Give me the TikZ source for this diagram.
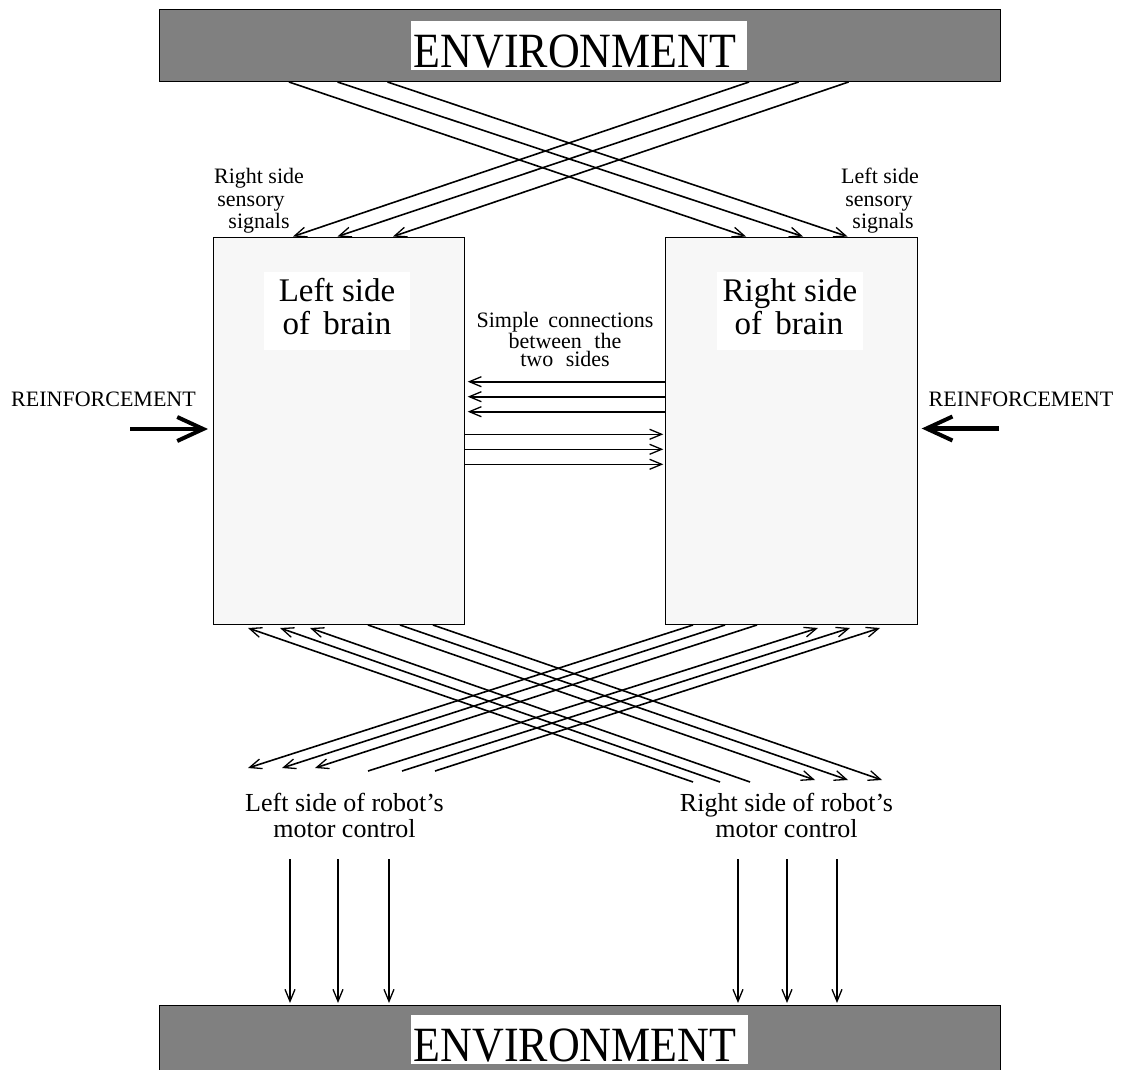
\documentclass[tikz,border=0pt]{standalone}
\usepackage{fontspec}
\setmainfont{Liberation Serif}
\usetikzlibrary{arrows.meta,calc}

\definecolor{envgray}{HTML}{808080}
\definecolor{brainfill}{HTML}{F7F7F7}

\tikzset{
  envbar/.style={draw=black,line width=1pt,fill=envgray,inner sep=0pt,anchor=north west},
  whitebox/.style={fill=white,draw=none,inner sep=0pt,anchor=north west},
  brainbox/.style={draw=black,line width=1pt,fill=brainfill,inner sep=0pt,anchor=north west},
  sig/.style={line width=1.6pt,-{Straight Barb[length=12pt,width=10pt,line width=1.3pt]}},
  reinf/.style={line width=4.5pt,-{Straight Barb[length=26pt,width=24pt,line width=4pt]}},
  lbl/.style={inner sep=0pt,anchor=base},
  small/.style={lbl,font=\fontsize{22}{22}\selectfont},
  motor/.style={lbl,font=\fontsize{26}{26}\selectfont},
  brainlbl/.style={lbl,font=\fontsize{33}{33}\selectfont},
  envlbl/.style={lbl,font=\fontsize{44}{44}\selectfont},
}

\begin{document}
\begin{tikzpicture}[x=1pt,y=-1pt]
\useasboundingbox (0,0) rectangle (1125,1070);

% ---------- environment, top ----------
\node[envbar,minimum width=841pt,minimum height=72.4pt] (envT) at (159,8.6) {};
\node[whitebox,minimum width=336pt,minimum height=49pt] (envTbox) at (411,21) {};
\node[envlbl] (envTtxt) at (575,68) {\scalebox{1}[1.12]{ENVIRONMENT}};

% ---------- environment, bottom (runs off the page) ----------
\begin{scope}
\clip (0,0) rectangle (1125,1070);
\node[envbar,minimum width=841pt,minimum height=80pt] (envB) at (159,1005) {};
\node[whitebox,minimum width=337pt,minimum height=49pt] (envBbox) at (411,1015) {};
\node[envlbl] (envBtxt) at (575,1061) {\scalebox{1}[1.12]{ENVIRONMENT}};
\end{scope}

% ---------- the two halves of the brain ----------
\node[brainbox,minimum width=251pt,minimum height=387.5pt] (LB) at (212.5,236.5) {};
\node[brainbox,minimum width=252pt,minimum height=387.5pt] (RB) at (665,236.5) {};

\node[whitebox,minimum width=146pt,minimum height=78pt] (LBbox) at (264,272) {};
\node[brainlbl] (LBt1) at (337,301.7) {Left side};
\node[brainlbl] (LBt2) at (337,334) {of\hspace{5pt} brain};

\node[whitebox,minimum width=146pt,minimum height=78pt] (RBbox) at (717,272) {};
\node[brainlbl] (RBt1) at (790,301.7) {Right side};
\node[brainlbl] (RBt2) at (789,334) {of\hspace{5pt} brain};

% ---------- sensory labels ----------
\node[small] (rss1) at (259,184) {Right side};
\node[small] (rss2) at (251,207) {sensory};
\node[small] (rss3) at (259,228.6) {signals};
\node[small] (lss1) at (880,184) {Left side};
\node[small] (lss2) at (879,207) {sensory};
\node[small] (lss3) at (883,228.6) {signals};

% ---------- sensory signals, crossing over ----------
\foreach \s/\e in {130/81, 178.5/138, 228.5/182.5}
  \draw[sig] ($(envT.south west)+(\s,0)$) -- ($(RB.north west)+(\e,0)$);
\foreach \s/\e in {590/80.5, 639.6/125, 689.6/180.5}
  \draw[sig] ($(envT.south west)+(\s,0)$) -- ($(LB.north west)+(\e,0)$);

% ---------- connections between the two sides ----------
\node[small] (sc1) at (565,327.7) {Simple\hspace{4pt} connections};
\node[small] (sc2) at (565,348.5) {between\hspace{7pt} the};
\node[small] (sc3) at (565,366.5) {two\hspace{7pt} sides};
\foreach \d in {145.2,160.2,175.2}
  \draw[sig] ($(RB.north west)+(0,\d)$) -- ($(LB.north east)+(3.2,\d)$);
\foreach \d in {197.8,212.8,227.8}
  \draw[sig] ($(LB.north east)+(0,\d)$) -- ($(RB.north west)+(-1.7,\d)$);

% ---------- reinforcement ----------
\node[small] (reinLt) at (103.5,406) {REINFORCEMENT};
\node[small] (reinRt) at (1021,406) {REINFORCEMENT};
\coordinate (reinL) at (130,429);
\coordinate (reinR) at (999,428.5);
\draw[reinf] (reinL) -- ($(LB.north west)+(-4.5,192.5)$);
\draw[reinf] (reinR) -- ($(RB.north east)+(3.7,192)$);

% ---------- motor control ----------
\node[motor] (lm1) at (344.5,811) {Left side of robot's};
\node[motor] (lm2) at (344.5,837) {motor control};
\node[motor] (rm1) at (786.5,811) {Right side of robot's};
\node[motor] (rm2) at (786.5,837) {motor control};

% ends of the crossing motor lines
\coordinate (rmA1) at (815,780);
\coordinate (rmA2) at (848,780);
\coordinate (rmA3) at (882,780);
\coordinate (rmB1) at (693,782);
\coordinate (rmB2) at (720,782);
\coordinate (rmB3) at (750,782);
\coordinate (lmC1) at (248,768);
\coordinate (lmC2) at (282,768);
\coordinate (lmC3) at (315,768);
\coordinate (lmD1) at (368,771);
\coordinate (lmD2) at (402,771);
\coordinate (lmD3) at (435,771);

% left brain -> right motor
\foreach \o/\c in {155.5/rmA1, 187.5/rmA2, 220.5/rmA3}
  \draw[sig] ($(LB.south west)+(\o,0)$) -- (\c);
% right motor -> left brain
\foreach \c/\o in {rmB1/35.5, rmB2/67.5, rmB3/97.5}
  \draw[sig] (\c) -- ($(LB.south west)+(\o,3)$);
% right brain -> left motor
\foreach \o/\c in {28/lmC1, 60/lmC2, 92/lmC3}
  \draw[sig] ($(RB.south west)+(\o,0)$) -- (\c);
% left motor -> right brain
\foreach \c/\o in {lmD1/153, lmD2/185, lmD3/215}
  \draw[sig] (\c) -- ($(RB.south west)+(\o,3)$);

% ---------- motor output to the environment ----------
\foreach \x/\o in {290/131, 338/179, 389/230, 738/579, 787/628, 837/678}{
  \coordinate (mv\o) at (\x,859);
  \draw[sig] (mv\o) -- ($(envB.north west)+(\o,-2)$);
}
\end{tikzpicture}
\end{document}
